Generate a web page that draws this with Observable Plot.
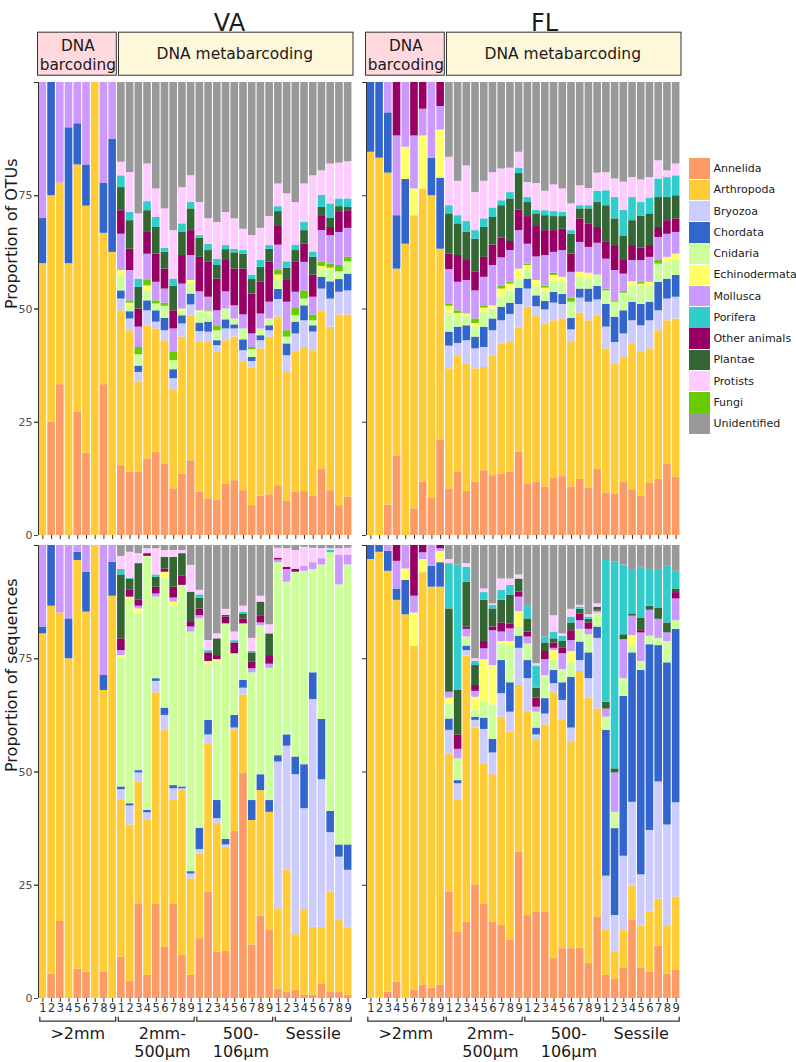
<!DOCTYPE html>
<html><head><meta charset="utf-8">
<script src="https://cdn.jsdelivr.net/npm/d3@7"></script>
<script src="https://cdn.jsdelivr.net/npm/@observablehq/plot@0.6"></script>
<style>
body{margin:0;background:#fff;font-family:"DejaVu Sans",sans-serif;}
#wrap{position:relative;width:796px;height:1062px;overflow:hidden;background:#fff;}
#chart{position:absolute;left:0;top:0;}
#legend{position:absolute;left:689px;top:158px;}
.row{display:flex;align-items:center;height:21.25px;}
.sw{width:21.4px;height:20.4px;margin-right:3px;flex:none;}
.lab{font-size:11px;color:#1a1a1a;white-space:nowrap;}
</style></head><body><div id="wrap"><div id="chart"></div><div id="legend"></div></div>
<script>
// ---- categories (stacking order bottom -> top) and legend order ----
const categories = ["Annelida","Arthropoda","Bryozoa","Chordata","Cnidaria","Echinodermata","Fungi","Mollusca","Other animals","Plantae","Porifera","Protists","Unidentified"];
const legendOrder = ["Annelida","Arthropoda","Bryozoa","Chordata","Cnidaria","Echinodermata","Mollusca","Porifera","Other animals","Plantae","Protists","Fungi","Unidentified"];
const palette = {"Annelida":"#fd9b67","Arthropoda":"#ffcb36","Bryozoa":"#ccccff","Chordata":"#3366cc","Cnidaria":"#ccff99","Echinodermata":"#ffff66","Fungi":"#66cc00","Mollusca":"#cc99ff","Other animals":"#990066","Plantae":"#336633","Porifera":"#33cccc","Protists":"#ffccff","Unidentified":"#999999"};
const sites = ["VA","FL"];
const measures = ["OTUs","sequences"];
const yTitles = ["Proportion of OTUs","Proportion of sequences"];
const sampleLabels = ["1","2","3","4","5","6","7","8","9"];
const groupLine1 = [">2mm","2mm-","500-","Sessile"];
const groupLine2 = ["","500µm","106µm",""];
const stripLabels = ["DNA\nbarcoding","DNA metabarcoding"];

// Each row = one bar; values = cumulative upper bound (%) of
// Annelida, Arthropoda, Bryozoa, Chordata, Cnidaria, Echinodermata, Fungi,
// Mollusca, Other animals, Plantae, Porifera, Protists (Unidentified fills to 100)
const vaOtuCum = [
[0,60,60,70,70,70,70,100],
[25,75,75,100],
[33.3,77.8,77.8,77.8,77.8,77.8,77.8,100],
[0,60,60,90,90,90,90,100],
[27.3,81.8,81.8,90.9,90.9,90.9,90.9,100],
[18.2,72.7,72.7,81.8,81.8,81.8,81.8,100],
[0,100],
[33.3,66.7,66.7,77.8,77.8,77.8,77.8,100],
[0,62.5,62.5,87.5,87.5,87.5,87.5,100],
[15.4,49.6,52.2,54.0,57.4,58.5,58.5,66.5,71.7,76.8,79.4,82.4],
[14.0,45.2,47.8,49.4,50.7,51.3,51.8,58.5,63.2,69.5,71.3,80.1],
[14.0,33.8,36.0,37.4,39.9,39.9,41.5,46.0,50.0,54.8,56.6,71.0],
[16.9,46.3,49.6,51.8,54.0,55.1,56.3,62.1,66.9,71.7,73.7,82.0],
[18.4,45.6,47.1,49.6,51.1,51.1,51.8,55.9,62.1,68.0,70.2,76.5],
[15.8,43.0,45.2,47.9,50.6,50.6,51.3,54.4,58.8,62.5,63.4,72.1],
[10.3,32.0,34.6,36.6,38.6,38.6,40.4,45.6,49.6,55.0,56.6,67.3],
[13.6,43.8,46.7,48.5,49.6,50.0,50.0,55.5,61.8,66.9,68.8,76.8],
[16.5,48.5,50.9,53.3,55.5,56.3,56.3,61.8,67.3,72.1,73.5,79.4],
[9.6,42.6,45.0,46.9,49.3,49.6,49.6,53.8,61.4,65.6,66.2,73.5],
[8.1,42.6,44.9,47.1,49.1,49.4,49.6,52.6,60.3,62.9,64.3,69.9],
[7.7,40.4,41.9,43.0,45.2,45.2,46.3,49.6,56.6,59.6,61.0,69.1],
[11.4,43.0,45.6,47.6,50.0,50.0,50.0,53.8,60.7,63.1,64.0,71.3],
[12.1,43.8,45.6,46.5,47.8,47.8,47.8,50.7,58.8,62.4,63.2,69.9],
[9.9,38.2,40.8,43.2,45.6,45.6,45.6,48.7,58.8,62.1,62.9,67.6],
[6.6,36.9,38.4,39.3,41.0,41.0,41.5,44.5,53.3,56.5,57.5,66.2],
[8.7,41.2,43.0,44.1,45.6,45.6,45.6,48.9,55.9,59.2,60.7,67.8],
[9.0,43.8,45.2,46.3,47.8,47.8,47.8,51.5,60.4,63.2,64.0,70.4],
[11.0,48.2,52.1,54.3,56.5,57.5,58.5,64.1,68.4,71.5,72.6,77.6],
[7.5,36.0,39.7,42.3,43.8,43.8,45.2,51.5,56.3,59.0,60.4,75.4],
[9.6,40.4,44.5,47.1,48.5,48.5,50.1,53.7,60.3,62.9,64.1,73.5],
[9.7,41.5,47.4,50.7,52.2,52.2,54.0,60.3,64.3,67.3,69.1,77.6],
[8.7,40.8,44.9,46.3,47.4,47.4,48.7,52.6,57.5,61.4,62.6,79.4],
[14.7,49.6,54.4,57.0,58.8,59.4,60.4,67.3,70.6,72.4,75.1,80.5],
[9.9,46.0,52.2,56.0,58.5,59.0,59.9,66.2,68.0,70.0,73.2,82.0],
[6.6,48.7,53.7,56.5,58.2,58.2,59.6,66.9,71.3,72.6,74.3,82.2],
[8.5,48.7,54.0,57.7,60.4,60.4,61.4,67.8,71.7,72.4,74.3,82.5]
];
const flOtuCum = [
[0,84.6,84.6,100],
[0,83.3,83.3,100],
[6.7,80,80,93.3,93.3,93.3,93.3,100],
[17.6,58.8,58.8,70.6,70.6,70.6,70.6,88.2,100],
[0,64.3,64.3,78.6,78.6,85.7,85.7,100],
[5.9,70.6,70.6,70.6,70.6,76.5,76.5,88.2,100],
[11.8,76.5,76.5,76.5,76.5,88.2,88.2,94.1,100],
[8.3,75,75,83.3,83.3,83.3,83.3,100],
[21.0,63.2,63.2,78.9,78.9,89.5,89.5,94.7,100],
[10.3,36.8,41.8,44.9,49.1,50.6,51.1,58.7,62.1,71.0,72.8,83.5],
[14.0,39.7,42.4,46.0,48.4,49.0,49.6,55.9,61.8,68.8,70.6,78.2],
[9.7,37.9,43.0,46.3,48.3,48.9,48.9,56.3,60.7,66.9,69.3,81.6],
[11.8,36.8,41.2,43.8,46.0,46.8,47.8,54.0,58.1,65.4,67.3,75.7],
[14.3,37.1,41.5,46.0,49.3,50.2,50.7,57.0,61.4,68.0,69.9,78.2],
[13.2,39.7,45.2,47.8,50.0,50.7,50.7,59.6,64.1,70.2,72.3,80.1],
[13.6,42.3,47.4,50.4,52.7,54.4,55.1,61.3,65.7,72.8,73.9,80.9],
[14.0,42.6,48.8,51.3,54.0,55.5,55.9,62.9,64.9,74.3,75.7,81.1],
[18.4,45.8,51.0,54.6,56.6,58.8,58.8,67.3,71.8,79.9,81.1,84.6],
[11.4,50.4,54.4,56.6,58.5,59.6,59.9,64.3,70.4,73.5,74.6,77.9],
[11.8,48.3,50.5,52.9,54.9,56.3,56.3,61.5,68.2,71.0,71.8,77.7],
[10.7,46.7,49.8,51.7,53.7,54.6,55.1,61.8,67.3,70.6,71.7,76.0],
[12.6,47.4,51.3,53.7,56.1,57.4,57.9,62.5,67.3,70.4,71.5,77.4],
[13.0,47.8,51.0,53.2,55.9,57.0,57.0,62.9,67.6,70.4,71.3,76.5],
[10.7,42.6,45.4,47.9,51.5,51.5,52.4,58.1,62.1,66.5,67.3,73.2],
[12.4,49.1,52.4,54.4,57.0,58.1,58.1,64.7,69.9,72.1,72.8,77.2],
[10.5,47.4,51.5,54.4,56.6,57.9,57.9,63.6,68.8,72.1,72.8,76.6],
[14.6,48.5,52.0,55.0,57.5,57.5,57.5,64.5,68.0,73.5,76.0,80.0],
[9.4,41.2,46.0,51.0,54.0,54.0,54.4,61.0,64.7,72.8,76.1,80.1],
[9.2,37.9,42.6,48.2,51.5,51.5,51.8,58.5,64.0,69.9,74.6,78.7],
[11.8,39.3,44.5,49.6,53.5,53.5,53.9,57.7,60.7,66.0,71.8,78.0],
[10.1,42.3,47.4,51.5,55.0,56.0,56.0,60.7,64.0,69.5,74.6,79.0],
[8.7,40.4,46.3,51.0,55.0,55.5,55.9,60.7,63.5,70.5,73.5,78.5],
[11.6,41.2,47.4,51.5,55.1,55.9,55.9,61.4,64.0,71.0,74.5,79.0],
[12.4,45.2,49.6,55.9,59.9,59.9,60.7,65.8,68.0,74.6,78.7,82.7],
[15.8,47.4,52.2,56.6,60.3,61.4,61.4,66.5,69.5,74.6,79.0,80.5],
[12.9,47.8,52.6,57.4,60.7,62.1,62.1,66.9,69.9,75.0,79.4,82.0]
];
const vaSeqCum = [
[0,80.5,80.5,82.0,82.0,82.0,82.0,100],
[5.4,86.6,86.6,100],
[17.0,85.1,85.1,85.1,85.1,85.1,85.1,100],
[0,75.0,75.0,83.8,83.8,83.8,83.8,100],
[6.5,96.7,96.7,98.5,98.5,98.5,98.5,100],
[5.8,85.3,85.3,94.1,94.1,94.1,94.1,100],
[0,100],
[5.8,68.0,68.0,71.4,71.4,71.4,71.4,100],
[0,88.8,88.8,96.3,96.3,96.3,96.3,100],
[9.1,43.7,46.1,46.7,75.1,75.7,75.7,76.8,79.4,93.5,94.7,97.6],
[3.8,38.3,42.5,43.0,88.1,88.6,88.6,88.6,90.1,92.6,92.8,98.5],
[20.9,47.8,49.8,50.3,84.9,86.0,86.0,86.6,87.9,96.0,96.0,98.2],
[5.1,39.3,41.0,41.5,97.6,97.6,97.6,97.6,98.2,98.2,98.2,99.3],
[20.9,67.5,70.0,70.6,88.6,88.6,88.6,89.3,90.8,93.0,93.5,99.3],
[11.3,59.2,62.5,64.1,92.8,94.1,94.1,94.1,94.8,97.4,97.4,98.9],
[20.9,43.7,46.3,47.0,86.6,87.5,87.5,88.4,90.8,97.4,97.4,98.9],
[9.5,45.9,46.3,46.7,91.2,91.2,91.2,91.2,93.2,98.2,98.2,98.9],
[5.1,26.4,27.5,28.0,80.9,80.9,80.9,82.0,83.2,89.7,89.7,95.6],
[13.2,31.9,32.9,37.6,83.8,83.8,83.8,84.5,86.0,88.4,89.1,90.1],
[23.5,56.2,58.2,61.4,73.9,74.4,74.4,74.4,76.3,76.3,76.8,79.0],
[10.2,38.6,39.7,43.7,74.2,74.8,74.8,74.8,75.7,79.4,79.4,80.5],
[10.4,33.4,33.9,35.1,82.7,82.7,82.7,82.7,84.2,84.6,84.6,85.9],
[36.9,59.2,59.7,62.5,76.1,76.1,76.1,76.1,78.5,78.5,79.0,80.9],
[49.8,67.0,68.5,70.2,82.7,82.7,82.7,82.7,83.8,84.9,85.3,86.6],
[11.8,39.3,39.3,43.7,71.9,71.9,71.9,72.8,74.2,76.3,76.6,79.5],
[18.2,45.9,45.9,49.4,82.3,82.3,82.3,82.9,84.5,87.5,87.5,88.8],
[15.0,41.1,41.1,43.7,72.9,72.9,72.9,73.8,75.7,80.5,80.5,82.5],
[2.1,19.8,52.2,53.6,96.2,96.2,96.2,96.8,97.2,97.2,97.2,99.4],
[1.3,28.3,55.7,58.2,91.9,91.9,91.9,94.7,95.2,95.2,95.2,99.3],
[1.8,14.1,49.4,53.3,94.1,94.1,94.1,94.1,94.7,94.7,94.7,98.9],
[0.7,19.6,41.9,51.6,94.3,94.3,94.3,95.4,95.4,95.4,95.4,99.6],
[0.7,15.7,66.0,71.9,94.7,94.7,94.7,96.2,96.2,96.2,96.2,99.4],
[3.2,15.7,48.3,61.6,95.7,95.7,95.7,97.1,97.1,97.1,97.1,99.3],
[1.3,23.5,36.6,41.3,98.4,98.4,98.4,98.4,98.4,98.4,98.9,99.3],
[1.3,17.2,31.2,33.9,91.3,91.3,91.3,97.9,97.9,97.9,97.9,99.3],
[0.7,15.5,28.3,33.9,95.7,95.7,95.7,97.9,97.9,97.9,97.9,99.4]
];
const flSeqCum = [
[0,96.9,96.9,100],
[0,98.5,98.5,100],
[1.4,94.3,94.3,98.7,98.7,98.7,98.7,100],
[3.6,87.9,87.9,90.4,90.4,90.4,90.4,96.5,100],
[0,84.7,84.7,92.3,92.3,94.8,94.8,100],
[1.8,77.8,77.8,77.8,77.8,85.1,85.1,88.8,100],
[3.0,94.0,94.0,94.0,94.0,96.9,96.9,98.4,100],
[2.3,90.8,90.8,95.4,95.4,95.4,95.4,100],
[3.0,90.8,90.8,96.2,96.2,98.7,98.7,99.3,100],
[23.5,54.0,59.2,61.7,65.0,66.3,66.3,67.6,67.6,86.0,96.0,96.9],
[14.6,43.7,47.4,48.1,52.9,52.9,52.9,55.0,58.2,68.0,95.7,95.7],
[16.9,75.6,76.8,77.8,79.8,79.8,79.8,81.5,82.0,91.9,95.2,96.0],
[25.1,59.7,61.4,62.1,63.6,66.5,66.5,67.8,69.1,73.5,74.4,75.0],
[20.9,51.8,59.4,61.9,65.4,74.8,74.8,77.2,78.8,87.9,89.6,90.4],
[16.9,49.4,54.2,57.2,64.8,73.5,73.5,81.2,82.0,86.0,86.8,87.1],
[16.1,62.1,67.3,74.6,78.3,78.8,78.8,80.9,82.9,87.9,90.1,92.6],
[12.8,58.8,63.2,69.7,77.9,78.8,78.8,81.6,82.7,89.0,91.2,92.6],
[32.3,69.1,77.3,80.0,82.0,85.4,85.4,88.6,89.7,92.6,92.6,93.5],
[18.3,63.2,70.6,74.6,78.3,78.3,78.3,79.8,80.9,83.8,86.8,86.8],
[19.1,57.2,58.2,59.7,63.2,63.2,63.2,64.3,66.3,68.5,73.4,73.9],
[19.1,60.4,62.8,66.2,71.3,71.3,71.3,74.8,76.6,78.5,79.8,79.8],
[8.8,67.5,69.5,72.4,74.8,76.8,76.8,77.3,78.5,79.4,80.9,84.5],
[11.0,61.4,65.8,69.7,72.6,72.6,72.6,76.1,77.3,78.8,80.0,80.5],
[11.0,56.7,59.7,70.9,74.1,76.6,76.6,79.0,81.2,82.9,84.2,85.9],
[11.1,72.2,74.6,78.7,81.5,81.5,81.5,83.4,84.9,85.9,86.4,86.8],
[7.7,66.3,70.6,76.3,80.3,80.3,80.3,81.5,82.9,83.7,84.2,84.7],
[18.0,63.9,79.5,82.0,85.1,85.1,85.1,85.5,85.8,86.4,86.4,87.1],
[5.1,15.0,27.0,59.2,62.1,62.1,62.1,63.9,63.9,65.4,96.7,96.7],
[4.2,10.2,18.3,37.5,41.1,41.1,41.1,49.8,49.8,50.7,96.3,96.3],
[6.7,15.0,31.4,66.7,70.6,70.6,70.6,79.2,79.2,80.3,95.7,95.7],
[17.4,24.8,43.3,76.3,77.9,80.1,80.1,84.4,84.4,84.9,94.5,94.5],
[6.7,16.0,27.3,72.4,74.4,74.4,74.4,80.7,81.2,84.0,95.2,95.2],
[5.8,19.1,37.1,78.1,80.0,80.0,80.0,85.7,85.7,86.6,94.5,94.5],
[11.6,21.9,47.8,77.9,79.5,79.5,79.5,83.7,83.7,86.2,94.5,94.5],
[5.4,16.1,38.3,74.1,78.8,78.8,78.8,80.7,80.7,82.9,95.4,95.4],
[6.2,22.4,43.2,81.5,83.4,83.4,83.4,88.2,89.6,90.4,94.3,94.3]
];

// ---- build stacked segments from the readings ----
const panels = [
  {site:"VA", measure:"OTUs", cum:vaOtuCum},
  {site:"FL", measure:"OTUs", cum:flOtuCum},
  {site:"VA", measure:"sequences", cum:vaSeqCum},
  {site:"FL", measure:"sequences", cum:flSeqCum}
];
const segments = [];
for (const p of panels) {
  p.cum.forEach((row, i) => {
    let prev = 0;
    categories.forEach((cat, k) => {
      const top = k < row.length ? row[k] : 100;
      if (top > prev + 1e-9) segments.push({site:p.site, measure:p.measure, i, cat, lo:prev, hi:top});
      prev = Math.max(prev, top);
    });
  });
}

const nBars = sampleLabels.length * groupLine1.length;
const xLabelData = [];
const groupData = [];
const bracketData = [];
const stripBarcoding = [];
const stripMeta = [];
for (const s of sites) {
  for (let i = 0; i < nBars; i++) xLabelData.push({site:s, i, t:sampleLabels[i % sampleLabels.length]});
  groupLine1.forEach((g, gi) => {
    groupData.push({site:s, gi, l1:g, l2:groupLine2[gi]});
    const a = gi * 9 + 0.15, b = gi * 9 + 8.85;
    [[a,-4.1],[a,-5],[b,-5],[b,-4.1]].forEach(([x,y]) => bracketData.push({site:s, key:s+gi, x, y}));
  });
  stripBarcoding.push({site:s, x1:0, x2:9, label:stripLabels[0]});
  stripMeta.push({site:s, x1:9, x2:nBars, label:stripLabels[1]});
}
// two-line group labels sit a little right of the bracket centre in the original
const labelX = d => d.gi * 9 + 4.5 + (groupLine2[d.gi] ? 0.7 : 0);

const chart = Plot.plot({
  width: 796, height: 1062,
  marginTop: 81.7, marginBottom: 64, marginLeft: 36.7, marginRight: 116,
  style: {fontFamily: "DejaVu Sans", fontSize: "11px", background: "white", color: "#333"},
  x: {domain: [0, nBars], axis: null, label: null},
  y: {domain: [0, 100], axis: null, label: null},
  fx: {domain: sites, axis: null, paddingInner: 0.044, paddingOuter: 0, label: null},
  fy: {domain: measures, axis: null, paddingInner: 0.0216, paddingOuter: 0, label: null},
  color: {domain: categories, range: categories.map(c => palette[c])},
  marks: [
    Plot.rect(segments, {x1: d => d.i, x2: d => d.i + 1, y1: "lo", y2: "hi", fill: "cat", fx: "site", fy: "measure", insetLeft: 0.55, insetRight: 0.55}),
    Plot.ruleX([0], {stroke: "#333", strokeWidth: 1}),
    Plot.axisY([0,25,50,75,100], {tickSize: 4, tickFormat: () => "", facetAnchor: null, stroke: "#333", label: null}),
    Plot.axisY([0,25,50,75], {tickSize: 4, tickPadding: 2, fontSize: 11, color: "#4d4d4d", label: null}),
    Plot.axisX(d3.range(nBars).map(i => i + 0.5), {tickSize: 4, tickFormat: () => "", facetAnchor: null, stroke: "#333", label: null}),
    Plot.text(xLabelData, {x: d => d.i + 0.5, text: "t", fx: "site", fy: () => "sequences", frameAnchor: "bottom", dy: 13, fontSize: 11.5, fill: "#333"}),
    Plot.line(bracketData, {x: "x", y: "y", z: "key", fx: "site", fy: () => "sequences", stroke: "#333", strokeWidth: 1.3}),
    Plot.text(groupData, {x: labelX, text: "l1", fx: "site", fy: () => "sequences", frameAnchor: "bottom", dy: 40, fontSize: 16, fill: "#1a1a1a"}),
    Plot.text(groupData, {x: labelX, text: "l2", fx: "site", fy: () => "sequences", frameAnchor: "bottom", dy: 58.5, fontSize: 16, fill: "#1a1a1a"}),
    Plot.rect(stripBarcoding, {x1: "x1", x2: "x2", y1: () => 101.5, y2: () => 111, fill: "#ffd9de", stroke: "#333", strokeWidth: 1, fx: "site", fy: () => "OTUs", insetLeft: -0.5, insetRight: 0.2}),
    Plot.rect(stripMeta, {x1: "x1", x2: "x2", y1: () => 101.5, y2: () => 111, fill: "#fff7d9", stroke: "#333", strokeWidth: 1, fx: "site", fy: () => "OTUs", insetLeft: 2, insetRight: -1}),
    Plot.text(stripBarcoding, {x: d => (d.x1 + d.x2) / 2, y: () => 106.25, text: "label", fx: "site", fy: () => "OTUs", fontSize: 15.3, lineHeight: 1.3, fill: "#1a1a1a"}),
    Plot.text(stripMeta, {x: d => (d.x1 + d.x2) / 2, y: () => 106.25, text: "label", fx: "site", fy: () => "OTUs", fontSize: 15.5, fill: "#1a1a1a"}),
    Plot.text(measures, {fx: () => "VA", fy: d => d, text: (d, i) => yTitles[i], frameAnchor: "left", rotate: -90, dx: -27, fontSize: 16, fill: "#1a1a1a"}),
    Plot.text(["VA"], {fx: d => d, fy: () => "OTUs", text: d => d, frameAnchor: "top", dy: -69, dx: 34, fontSize: 24, fill: "#1a1a1a"}),
    Plot.text(["FL"], {fx: d => d, fy: () => "OTUs", text: d => d, frameAnchor: "top", dy: -69, dx: 21, fontSize: 24, fill: "#1a1a1a"})
  ]
});
document.getElementById("chart").appendChild(chart);

// ---- legend ----
const legend = document.getElementById("legend");
for (const c of legendOrder) {
  const row = document.createElement("div"); row.className = "row";
  const sw = document.createElement("div"); sw.className = "sw"; sw.style.background = palette[c];
  const lab = document.createElement("div"); lab.className = "lab"; lab.textContent = c;
  row.appendChild(sw); row.appendChild(lab); legend.appendChild(row);
}
</script></body></html>
